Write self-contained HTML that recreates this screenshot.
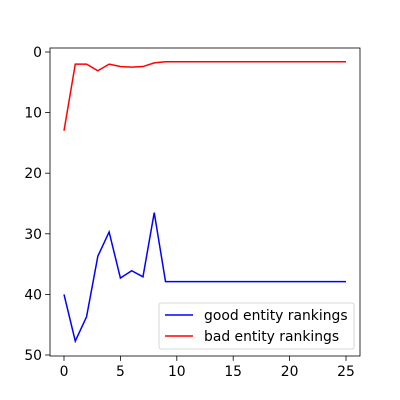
<!DOCTYPE html>
<html><head><meta charset="utf-8"><style>
body{margin:0;background:#fff;}
svg{display:block;font-family:"DejaVu Sans","Liberation Sans",sans-serif;}
</style></head><body>
<svg id="chart" width="400" height="400">
<rect x="0" y="0" width="400" height="400" fill="#fff"/>
<g id="plot"></g>
</svg>
<script>
const xValues=[0,1,2,3,4,5,6,7,8,9,10,11,12,13,14,15,16,17,18,19,20,21,22,23,24,25];
const goodRankings=[40,47.7,43.7,33.7,29.7,37.3,36.1,37.1,26.5,37.9,37.9,37.9,37.9,37.9,37.9,37.9,37.9,37.9,37.9,37.9,37.9,37.9,37.9,37.9,37.9,37.9];
const badRankings=[13,2,2,3.1,2,2.4,2.5,2.4,1.8,1.6,1.6,1.6,1.6,1.6,1.6,1.6,1.6,1.6,1.6,1.6,1.6,1.6,1.6,1.6,1.6,1.6];
const xTicks=[0,5,10,15,20,25];
const yTicks=[0,10,20,30,40,50];
const seriesLabels=["good entity rankings","bad entity rankings"];

const L=50,R=360,T=48,B=356;
const FS=13.9;
const xs=v=>64+v*(346-64)/25;
const ys=v=>52+v*(355-52)/50;
const ns="http://www.w3.org/2000/svg";
const g=document.getElementById('plot');
function mk(t,a){const e=document.createElementNS(ns,t);for(const k in a)e.setAttribute(k,a[k]);g.appendChild(e);return e;}

function drawLine(vals,color,name){
  const p=mk('polyline',{points:vals.map((v,i)=>xs(xValues[i])+','+ys(v)).join(' '),fill:'none',stroke:color,'stroke-width':1.5});
  
  
}
drawLine(goodRankings,'#0000ff','good-rankings-line');
drawLine(badRankings,'#ff0000','bad-rankings-line');

const frame=mk('rect',{x:L,y:T,width:R-L,height:B-T,fill:'none',stroke:'#000','stroke-width':0.8});



xTicks.forEach(t=>{
  const x=xs(t);
  mk('line',{x1:x,x2:x,y1:B,y2:B+4.9,stroke:'#000','stroke-width':0.8});
  const tx=mk('text',{x:x,y:B+20,'font-size':FS,'text-anchor':'middle',fill:'#000'});
  tx.textContent=t;
  
  
});
yTicks.forEach(t=>{
  const y=ys(t);
  mk('line',{x1:L,x2:L-4.9,y1:y,y2:y,stroke:'#000','stroke-width':0.8});
  const tx=mk('text',{x:L-8,y:y+5,'font-size':FS,'text-anchor':'end',fill:'#000'});
  tx.textContent=t;
  
  
});

const lg=mk('rect',{x:159,y:303,width:195,height:46,rx:2,fill:'#fff','fill-opacity':0.8,stroke:'#ccc','stroke-width':0.8});


const colors=['#0000ff','#ff0000'];
seriesLabels.forEach((s,i)=>{
  const y=315+i*21;
  mk('line',{x1:165,x2:193,y1:y,y2:y,stroke:colors[i],'stroke-width':1.5});
  const tx=mk('text',{x:204,y:y+5,'font-size':FS,fill:'#000'});
  tx.textContent=s;
  
  
});
</script>
</body></html>
